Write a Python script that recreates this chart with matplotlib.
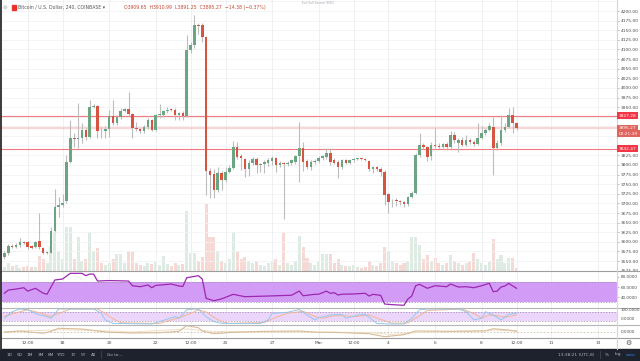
import numpy as np
import matplotlib.pyplot as plt
from matplotlib.lines import Line2D
from matplotlib.patches import Rectangle

# 4h BTC/USD candles, Feb 15 12:00 -> Mar 9 12:00 (index 0..132)
opens = [3560, 3571, 3590, 3587, 3593, 3600, 3599, 3588, 3586, 3601,
         3584, 3571, 3572, 3629, 3691, 3696, 3705, 3808, 3870, 3867,
         3869, 3891, 3873, 3951, 3952, 3889, 3888, 3893, 3927, 3910,
         3925, 3941, 3945, 3932, 3896, 3894, 3887, 3898, 3916, 3892,
         3929, 3931, 3939, 3944, 3944, 3929, 3936, 3927, 4098, 4112,
         4164, 4164, 4133, 3785, 3776, 3735, 3778, 3761, 3782, 3792,
         3847, 3823, 3815, 3789, 3806, 3816, 3801, 3802, 3806, 3811,
         3817, 3800, 3806, 3802, 3806, 3807, 3823, 3843, 3810, 3794,
         3808, 3811, 3818, 3820, 3832, 3812, 3808, 3795, 3812, 3806,
         3812, 3815, 3816, 3815, 3811, 3789, 3794, 3789, 3782, 3724,
         3705, 3707, 3706, 3703, 3698, 3717, 3728, 3826, 3852, 3847,
         3822, 3853, 3850, 3847, 3855, 3846, 3877, 3856, 3866, 3853,
         3866, 3860, 3855, 3871, 3882, 3891, 3899, 3843, 3856, 3891,
         3899, 3929, 3909.65]
highs = [3576, 3595, 3594, 3596, 3609, 3603, 3603, 3592, 3603, 3676,
         3586, 3575, 3639, 3737, 3716, 3724, 3826, 3918, 3882, 3960,
         3908, 3895, 3970, 3958, 3955, 3898, 3900, 3943, 3969, 3930,
         3948, 3948, 3990, 3936, 3912, 3897, 3903, 3921, 3920, 3933,
         3959, 3944, 3950, 3949, 3948, 3938, 3940, 4138, 4120, 4190,
         4168, 4168, 4136, 3791, 3789, 3795, 3783, 3795, 3800, 3862,
         3860, 3829, 3818, 3812, 3820, 3820, 3806, 3812, 3817, 3823,
         3820, 3810, 3808, 3810, 3816, 3826, 3912, 3860, 3815, 3812,
         3815, 3822, 3826, 3843, 3843, 3818, 3812, 3815, 3816, 3815,
         3818, 3819, 3818, 3817, 3814, 3797, 3796, 3795, 3786, 3728,
         3712, 3713, 3709, 3707, 3720, 3732, 3832, 3882, 3858, 3850,
         3860, 3895, 3856, 3858, 3860, 3889, 3885, 3870, 3872, 3878,
         3870, 3864, 3910, 3900, 3895, 3908, 3925, 3865, 3930, 3910,
         3947, 3950, 3910.99]
lows = [3555, 3567, 3584, 3585, 3587, 3594, 3581, 3582, 3584, 3581,
        3568, 3568, 3570, 3626, 3665, 3690, 3700, 3804, 3847, 3843,
        3856, 3866, 3870, 3948, 3869, 3869, 3869, 3873, 3905, 3905,
        3920, 3937, 3928, 3871, 3888, 3884, 3884, 3894, 3888, 3887,
        3922, 3925, 3936, 3940, 3917, 3917, 3916, 3924, 4090, 4105,
        4140, 4120, 3722, 3713, 3715, 3730, 3735, 3755, 3778, 3789,
        3815, 3786, 3769, 3770, 3800, 3780, 3782, 3780, 3797, 3800,
        3782, 3795, 3659, 3798, 3800, 3803, 3756, 3784, 3790, 3788,
        3803, 3806, 3812, 3815, 3800, 3802, 3765, 3790, 3802, 3803,
        3808, 3812, 3812, 3810, 3785, 3780, 3784, 3770, 3696, 3676,
        3690, 3693, 3697, 3690, 3694, 3714, 3725, 3820, 3842, 3810,
        3813, 3845, 3843, 3844, 3840, 3838, 3858, 3834, 3850, 3850,
        3855, 3850, 3852, 3868, 3878, 3888, 3774, 3838, 3852, 3886,
        3895, 3882, 3891.25]
closes = [3572, 3589, 3587, 3593, 3600, 3598, 3587, 3585, 3600, 3586,
          3572, 3573, 3629, 3691, 3696, 3702, 3808, 3869, 3867, 3869,
          3891, 3873, 3951, 3953, 3889, 3887, 3893, 3927, 3910, 3925,
          3941, 3945, 3932, 3896, 3893, 3887, 3898, 3917, 3892, 3929,
          3931, 3939, 3944, 3943, 3930, 3935, 3927, 4098, 4112, 4164,
          4162, 4133, 3785, 3774, 3735, 3778, 3761, 3782, 3792, 3847,
          3821, 3817, 3789, 3806, 3816, 3801, 3802, 3808, 3813, 3818,
          3800, 3806, 3802, 3806, 3813, 3823, 3843, 3808, 3794, 3808,
          3811, 3818, 3822, 3832, 3808, 3806, 3794, 3812, 3806, 3812,
          3815, 3816, 3815, 3813, 3789, 3794, 3789, 3782, 3722, 3704,
          3707, 3706, 3703, 3698, 3717, 3728, 3826, 3852, 3847, 3821,
          3853, 3849, 3847, 3855, 3846, 3878, 3864, 3866, 3853, 3866,
          3860, 3855, 3871, 3882, 3891, 3901, 3843, 3856, 3891, 3899,
          3929, 3910, 3895.27]
volumes = [240, 480, 300, 360, 180, 240, 300, 240, 240, 900,
           720, 480, 1500, 2220, 1200, 720, 2580, 2580, 720, 1980,
           600, 720, 2280, 1200, 1380, 480, 360, 480, 720, 1020,
           1020, 480, 1200, 1200, 480, 360, 300, 480, 420, 600,
           360, 900, 420, 300, 480, 360, 420, 3540, 1080, 1080,
           600, 840, 3960, 1980, 1980, 1200, 600, 480, 720, 2280,
           1200, 720, 840, 600, 480, 600, 360, 300, 480, 600,
           720, 360, 2280, 480, 360, 600, 2040, 1440, 780, 480,
           360, 600, 1020, 1020, 1020, 480, 720, 360, 300, 300,
           360, 240, 180, 240, 600, 360, 300, 480, 1440, 1200,
           600, 480, 360, 480, 600, 1980, 1980, 1560, 720, 960,
           600, 780, 480, 360, 480, 960, 600, 480, 360, 480,
           600, 1080, 720, 480, 360, 600, 1860, 720, 960, 480,
           780, 780, 180]

# RSI, stochastic RSI and the bottom oscillator, read at candle indices
rsi_idx = [0, 1, 3, 5, 6, 8, 10, 11, 13, 15, 17, 20, 21, 22, 23, 24, 27, 30,
           32, 33, 35, 37, 38, 39, 43, 45, 46, 47, 50, 51, 52, 54, 56, 59, 62,
           68, 74, 76, 77, 80, 81, 83, 84, 85, 86, 87, 90, 93, 94, 95, 97, 98,
           100, 103, 104, 105, 106, 107, 109, 111, 114, 115, 117, 119, 121,
           123, 125, 126, 127, 128, 129, 130, 132]
rsi_val = [48, 54, 56, 58.6, 52, 57.5, 48, 46, 73.6, 75.5, 86.6, 86.6, 82,
           85.2, 85, 71.6, 72.5, 72, 71.6, 62.5, 60.6, 63.9, 58.6, 63, 65.8,
           62, 61, 78, 82, 75.5, 38, 33.4, 37, 45.8, 41.2, 42.5, 44, 52.2, 43,
           45.8, 46, 52, 47.8, 49, 44.5, 46, 46.5, 47.8, 42.5, 45.8, 43.8, 27,
           25.7, 24.5, 36.7, 42.5, 62.5, 65.2, 57.5, 62.5, 60.6, 65.8, 60,
           60.6, 58.6, 62.5, 67.2, 50.9, 52, 60, 62, 67, 57.5]
k_idx = [0, 2, 4, 6, 8, 9, 11, 12, 14, 23, 25, 26, 28, 38, 40, 44, 45, 47,
         49, 50, 52, 54, 56, 66, 68, 69, 73, 76, 78, 80, 81, 84, 87, 88, 91,
         93, 96, 99, 103, 105, 107, 109, 117, 119, 121, 123, 124, 126, 128,
         130, 132]
k_val = [38, 82, 100, 95, 71, 60, 49, 38, 100, 100, 71, 27, 4, 0, 16, 49,
         38, 95, 100, 97, 49, 16, 4, 4, 27, 71, 78, 97, 60, 27, 42, 60, 65,
         38, 60, 65, 4, 0, 0, 38, 95, 100, 100, 82, 27, 38, 82, 60, 27, 65, 71]
d_idx = [0, 3, 6, 9, 12, 15, 17, 24, 26, 28, 30, 40, 42, 45, 48, 50, 52, 54,
         56, 58, 67, 70, 73, 77, 80, 82, 85, 88, 90, 94, 97, 100, 104, 107,
         109, 118, 121, 123, 125, 127, 129, 132]
d_val = [50, 75, 95, 75, 50, 80, 100, 100, 70, 35, 8, 4, 20, 42, 70, 95, 80,
         45, 15, 4, 10, 45, 72, 85, 50, 38, 55, 55, 48, 60, 30, 5, 8, 55, 90,
         100, 70, 40, 60, 55, 45, 60]
osc_idx = [0, 4, 10, 12, 14, 20, 24, 27, 33, 40, 45, 47, 50, 51, 54, 59, 68,
           76, 81, 85, 94, 98, 103, 106, 116, 124, 126, 130, 132]
osc_val = [-0.3, 1, -1.3, 0.7, 3.7, 3, 1, -0.3, -1, -0.7, 0.7, 6.3, 4.3, 1,
           -1.7, -0.3, 0.7, 1, -0.3, -0.3, -1.7, -4.7, -2.7, 1, 0.7, 1, 3.3,
           2, 0.7]
sig_idx = [0, 14, 24, 33, 47, 54, 68, 94, 100, 106, 126, 132]
sig_val = [0.5, 2.2, 1.5, 0, 3, 0.5, 0.3, -0.5, -2.5, -0.5, 1.8, 1.2]

tick_idx = [6, 15, 27, 39, 48, 57, 69, 81, 90, 99, 111, 123, 132, 141, 153]
tick_lbl = ['12:00', '18', '20', '22', '12:00', '25', '27', 'Mar', '12:00',
            '4', '6', '8', '12:00', '11', '13']
price_ticks = [p for p in range(3525, 4201, 25) if p not in (3850, 3875, 3900, 3925)]

UP, DOWN = '#6ba583', '#d75442'
TXT = '#4a4a4a'
W, H = 640, 361
XLIM = (-1.13, 157.9)


def rect(x0, y0, x1, y1):
    return [x0 / W, 1 - y1 / H, (x1 - x0) / W, (y1 - y0) / H]


def plain(ax):
    ax.set_xlim(*XLIM)
    for s in ax.spines.values():
        s.set_visible(False)
    ax.tick_params(axis='x', length=0, labelbottom=False)
    for t in tick_idx:
        ax.axvline(t, color='#eef0f2', lw=0.7, zorder=0)


fig = plt.figure(figsize=(6.4, 3.61), dpi=100)

idx = np.arange(len(closes))
o, h, l, c = map(np.array, (opens, highs, lows, closes))
colors = [UP if cc >= oo else DOWN for oo, cc in zip(o, c)]

# volume behind the candles
vol_ax = fig.add_axes(rect(0, 0, 617, 271))
plain(vol_ax)
vol_ax.set_yticks([])
vol_ax.set_ylim(0, 16000)
vol_ax.bar(idx, volumes, width=0.78, color=colors, alpha=0.22, linewidth=0)

ax = fig.add_axes(rect(0, 0, 617, 271))
ax.set_facecolor('none')
plain(ax)
ax.set_ylim(3524.3, 4228.6)
for p in range(3525, 4226, 25):
    ax.axhline(p, color='#f0f2f4', lw=0.6, zorder=0)
ax.vlines(idx, l, h, color='#bdbdbd', lw=0.8, zorder=2)
body = np.maximum(np.abs(c - o), 2.2)
ax.bar(idx, body, bottom=np.minimum(o, c), width=0.66, color=colors, linewidth=0, zorder=3)
ax.axhline(3927.28, color='#f47a80', lw=0.8, zorder=1)
ax.axhline(3842.47, color='#f47a80', lw=0.8, zorder=1)
ax.axhline(3895.27, color='#f8c4c6', lw=1.6, alpha=0.7, zorder=1)
ax.yaxis.tick_right()
ax.set_yticks(price_ticks)
ax.set_yticklabels([f'{p:.2f}' for p in price_ticks])
ax.tick_params(axis='y', length=1.2, width=0.4, pad=1.5, labelsize=3.2,
               labelcolor=TXT, color='#888888')

# RSI pane
rsi_ax = fig.add_axes(rect(0, 271, 617, 307.5))
plain(rsi_ax)
rsi_ax.set_ylim(20.2, 91.1)
rsi_ax.axhspan(30, 70, color='#d29cf6', lw=0, zorder=0.5)
for lv in (30, 70):
    rsi_ax.axhline(lv, color='#9a8aa8', lw=0.5, ls=(0, (2, 2)))
rsi_ax.plot(rsi_idx, rsi_val, color='#9c27b0', lw=0.9)
rsi_ax.yaxis.tick_right()
rsi_ax.set_yticks([80, 60, 40])
rsi_ax.set_yticklabels(['80.0000', '60.0000', '40.0000'])
rsi_ax.tick_params(axis='y', length=1.2, width=0.4, pad=1.5, labelsize=3.0,
                   labelcolor=TXT, color='#888888')

# stochastic RSI pane
st_ax = fig.add_axes(rect(0, 307.5, 617, 325))
plain(st_ax)
st_ax.set_yticks([])
st_ax.set_ylim(-6.7, 110)
st_ax.axhspan(20, 80, color='#ecd5fb', lw=0, zorder=0.5)
for lv in (20, 80):
    st_ax.axhline(lv, color='#9a8aa8', lw=0.5, ls=(0, (2, 2)))
st_ax.plot(d_idx, d_val, color='#f3b592', lw=0.7)
st_ax.plot(k_idx, k_val, color='#92c9ef', lw=0.7)

# bottom oscillator pane
os_ax = fig.add_axes(rect(0, 325, 617, 337.7))
plain(os_ax)
os_ax.set_yticks([])
os_ax.set_ylim(-5.7, 7)
os_ax.axhline(0, color='#cdbfa8', lw=0.6, ls=(0, (2, 2)))
os_ax.plot(sig_idx, sig_val, color='#efdfc8', lw=0.7)
os_ax.plot(osc_idx, osc_val, color='#d8bc98', lw=0.8)
os_ax.set_xticks(tick_idx)
os_ax.set_xticklabels(tick_lbl)
os_ax.tick_params(axis='x', labelbottom=True, pad=2.6, labelsize=3.2, labelcolor=TXT)

# frame lines
for yy, col in ((271, '#9d9d9d'), (307.5, '#b5b5b5'), (325, '#b5b5b5'), (337.7, '#9d9d9d')):
    fig.add_artist(Line2D([0, 1], [1 - yy / H] * 2, color=col, lw=0.8))
fig.add_artist(Line2D([617 / W] * 2, [1 - 348.5 / H, 1], color='#d6d6d6', lw=0.8))
fig.add_artist(Line2D([1 / W] * 2, [1 - 348.5 / H, 1], color='#3a3a3a', lw=1.4))

# right-hand labels
def tag(y, text, fc):
    fig.text(619 / W, 1 - y / H, text, fontsize=3.1, color='white', va='center', ha='left',
             bbox=dict(boxstyle='square,pad=0.35', fc=fc, ec='none'))


tag(115.9, '3927.28', '#f23645')
tag(128.3, '3895.27', '#e0655d')
tag(133.8, '02:21:39', '#e0655d')
tag(148.6, '3842.47', '#f23645')
for y, s in ((309.6, '100.0000'), (319.4, '0.0000'), (331.7, '0.0000')):
    fig.text(620.5 / W, 1 - y / H, s, fontsize=3.0, color=TXT, va='center', ha='left')
fig.text(628 / W, 1 - 343.3 / H, '\u2699', fontsize=5, color='#555555', ha='center', va='center')

# header
fig.text(5 / W, 1 - 7 / H, '\u25cf', fontsize=4, color='#d8d8d8', va='center', ha='center')
fig.add_artist(Rectangle((11.5 / W, 1 - 9.5 / H), 4 / W, 5 / H, color='#e8322c'))
fig.text(18 / W, 1 - 7 / H, 'Bitcoin / U.S. Dollar, 240, COINBASE \u25be', fontsize=3.35,
         color='#555555', va='center', ha='left')
fig.text(124 / W, 1 - 7 / H, 'O3909.65  H3910.99  L3891.25  C3895.27  \u221214.38 (\u22120.37%)',
         fontsize=3.3, color='#c4472f', va='center', ha='left')
fig.text(302 / W, 1 - 3.5 / H, 'Exit Full Screen (ESC)', fontsize=2.2, color='#a0a3aa',
         va='center', ha='left')

# bottom toolbar
fig.add_artist(Rectangle((0, 0), 1, 12.5 / H, color='#1e222d'))
for x, s in ((9.3, '1D'), (19.3, '5D'), (30, '1M'), (40.7, '3M'), (50.7, '6M'),
             (61.7, 'YTD'), (72.7, '1Y'), (83.3, '5Y'), (93.3, 'All'), (114.5, 'Go to...')):
    fig.text(x / W, 1 - 354.5 / H, s, fontsize=3.1, color='#b2b5be', ha='center', va='center')
fig.text(576 / W, 1 - 354.5 / H, '13:38:21 (UTC-8)', fontsize=3.1, color='#b2b5be',
         ha='center', va='center')
for x, s, col in ((607, '%', '#b2b5be'), (617.5, 'log', '#b2b5be'), (630.5, 'auto', '#2f80ed')):
    fig.text(x / W, 1 - 354.5 / H, s, fontsize=3.1, color=col, ha='center', va='center')
for x in (100.5, 600):
    fig.add_artist(Line2D([x / W] * 2, [1 - 358 / H, 1 - 351 / H], color='#434651', lw=0.6))

fig.savefig('out.png', dpi=100)
